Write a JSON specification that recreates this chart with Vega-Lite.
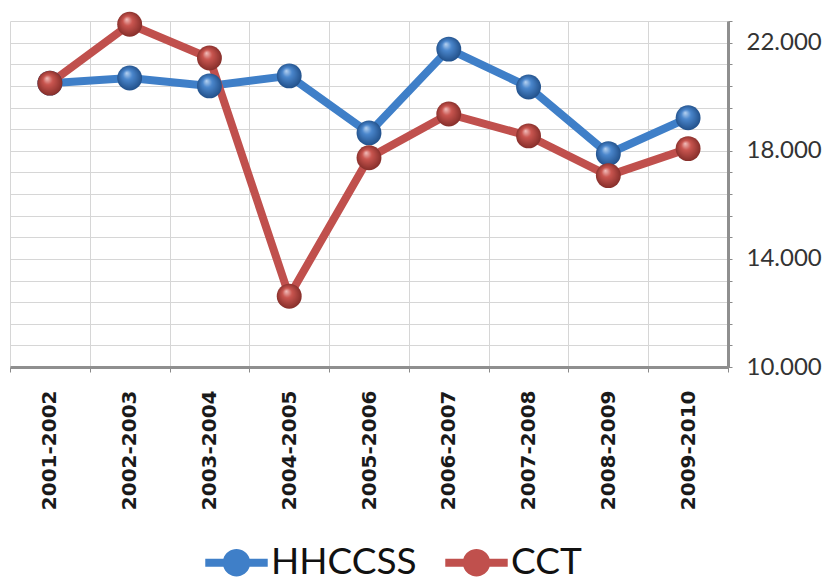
{
  "$schema": "https://vega.github.io/schema/vega-lite/v6.json",
  "width": 718,
  "height": 346,
  "padding": {"left": 0, "top": 8, "right": 0, "bottom": 0},
  "background": "white",
  "data": {"values": [
    {"year": "2001-2002", "series": "HHCCSS", "value": 20500},
    {"year": "2002-2003", "series": "HHCCSS", "value": 20690},
    {"year": "2003-2004", "series": "HHCCSS", "value": 20400},
    {"year": "2004-2005", "series": "HHCCSS", "value": 20770},
    {"year": "2005-2006", "series": "HHCCSS", "value": 18660},
    {"year": "2006-2007", "series": "HHCCSS", "value": 21760},
    {"year": "2007-2008", "series": "HHCCSS", "value": 20360},
    {"year": "2008-2009", "series": "HHCCSS", "value": 17890},
    {"year": "2009-2010", "series": "HHCCSS", "value": 19220},
    {"year": "2001-2002", "series": "CCT", "value": 20500},
    {"year": "2002-2003", "series": "CCT", "value": 22680},
    {"year": "2003-2004", "series": "CCT", "value": 21430},
    {"year": "2004-2005", "series": "CCT", "value": 12620},
    {"year": "2005-2006", "series": "CCT", "value": 17740},
    {"year": "2006-2007", "series": "CCT", "value": 19360},
    {"year": "2007-2008", "series": "CCT", "value": 18550},
    {"year": "2008-2009", "series": "CCT", "value": 17080},
    {"year": "2009-2010", "series": "CCT", "value": 18080}
  ]},
  "encoding": {
    "x": {
      "field": "year", "type": "nominal", "sort": null,
      "scale": {"type": "band", "paddingInner": 0, "paddingOuter": 0},
      "axis": {
        "title": null, "tickBand": "extent", "grid": true, "gridColor": "#d6d6d6",
        "labelAngle": -90, "labelAlign": "right", "labelBaseline": "middle",
        "labelFont": "DejaVu Sans", "labelFontWeight": "bold", "labelFontSize": 20,
        "labelColor": "#1a1a1a", "labelPadding": 18,
        "domainColor": "#8f8f8f", "domainWidth": 3, "tickColor": "#8a8a8a", "tickSize": 5
      }
    },
    "y": {
      "field": "value", "type": "quantitative",
      "scale": {"domain": [10000, 22800], "nice": false, "zero": false},
      "axis": {
        "orient": "right", "title": null,
        "values": [10000, 10800, 11600, 12400, 13200, 14000, 14800, 15600, 16400, 17200, 18000, 18800, 19600, 20400, 21200, 22000, 22800],
        "labelExpr": "datum.value % 4000 == 2000 ? replace(format(datum.value, ',d'), ',', '.') : ''",
        "grid": true, "gridColor": "#d6d6d6",
        "labelFont": "Lato", "labelFontSize": 24, "labelColor": "#333333", "labelPadding": 14,
        "domainColor": "#8f8f8f", "domainWidth": 3, "tickColor": "#8a8a8a", "tickSize": 4
      }
    }
  },
  "layer": [
    {
      "mark": {"type": "line", "strokeWidth": 8},
      "encoding": {
        "color": {
          "field": "series", "type": "nominal",
          "scale": {"domain": ["HHCCSS", "CCT"], "range": ["#3F7FC8", "#C0504D"]},
          "legend": {
            "orient": "none", "legendX": 195, "legendY": 510, "direction": "horizontal", "title": null,
            "labelFont": "Lato", "labelFontSize": 37, "labelColor": "#111111", "labelLimit": 0,
            "symbolType": "M-1,-0.13H-0.42A0.44,0.44 0 0,1 0.42,-0.13H1V0.13H0.42A0.44,0.44 0 0,1 -0.42,0.13H-1Z",
            "symbolSize": 3900, "symbolStrokeWidth": 0, "columnPadding": 28, "labelOffset": 3,
            "padding": 0,
            "encode": {"symbols": {"update": {"fill": {"scale": "color", "field": "value"}, "fillOpacity": {"value": 1}, "strokeWidth": {"value": 0}}}}
          }
        }
      }
    },
    {
      "transform": [{"filter": "datum.series == 'HHCCSS'"}],
      "mark": {
        "type": "point", "filled": true, "size": 620, "opacity": 1,
        "fill": {"gradient": "radial", "x1": 0.38, "y1": 0.3, "r1": 0, "x2": 0.5, "y2": 0.5, "r2": 0.55,
          "stops": [{"offset": 0, "color": "#b9d4f2"}, {"offset": 0.35, "color": "#4a86cc"}, {"offset": 1, "color": "#1d4a82"}]}
      }
    },
    {
      "transform": [{"filter": "datum.series == 'CCT'"}],
      "mark": {
        "type": "point", "filled": true, "size": 620, "opacity": 1,
        "fill": {"gradient": "radial", "x1": 0.38, "y1": 0.3, "r1": 0, "x2": 0.5, "y2": 0.5, "r2": 0.55,
          "stops": [{"offset": 0, "color": "#f2c0bd"}, {"offset": 0.35, "color": "#c9554f"}, {"offset": 1, "color": "#7e2a26"}]}
      }
    }
  ],
  "config": {"view": {"stroke": null}}
}
